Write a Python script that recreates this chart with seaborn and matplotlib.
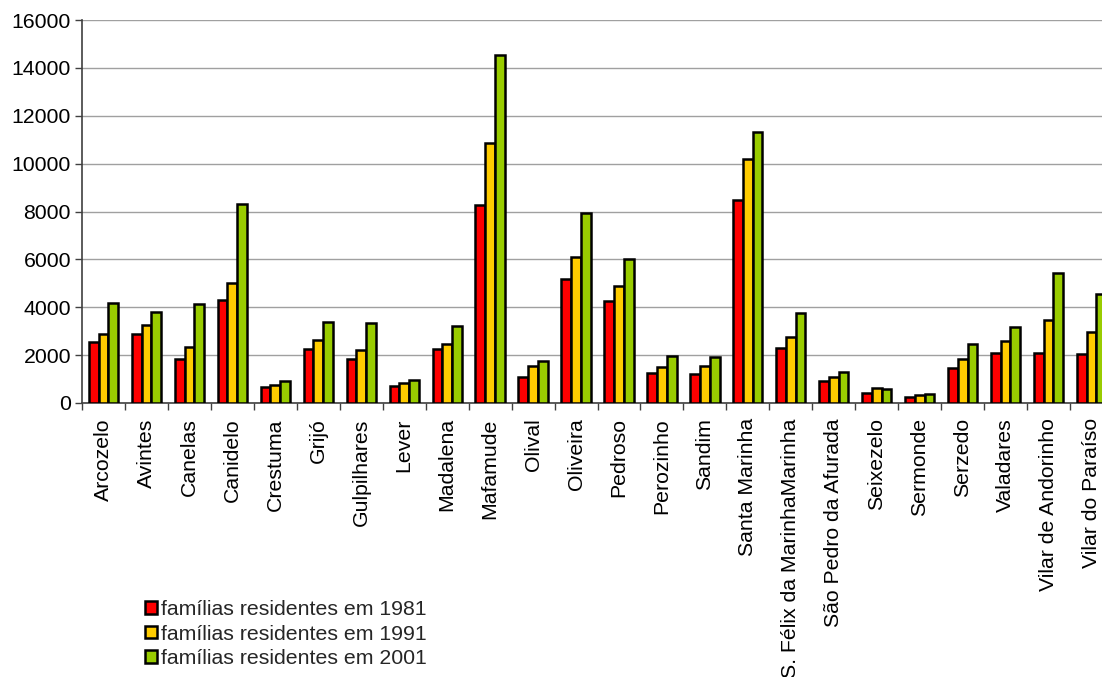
import matplotlib
matplotlib.use("Agg")
import matplotlib.pyplot as plt
from matplotlib.patches import Patch
from matplotlib.ticker import FixedLocator, MultipleLocator
import pandas as pd
import seaborn as sns

freguesias = [
    "Arcozelo", "Avintes", "Canelas", "Canidelo", "Crestuma", "Grijó",
    "Gulpilhares", "Lever", "Madalena", "Mafamude", "Olival", "Oliveira",
    "Pedroso", "Perozinho", "Sandim", "Santa Marinha",
    "S. Félix da MarinhaMarinha", "São Pedro da Afurada", "Seixezelo",
    "Sermonde", "Serzedo", "Valadares", "Vilar de Andorinho",
    "Vilar do Paraíso",
]
familias_1981 = [2535, 2895, 1825, 4300, 655, 2240, 1825, 725, 2255, 8270,
                 1085, 5165, 4260, 1255, 1210, 8465, 2310, 905, 405, 240,
                 1450, 2075, 2075, 2045]
familias_1991 = [2870, 3245, 2340, 5000, 740, 2645, 2215, 835, 2465, 10875,
                 1560, 6100, 4885, 1515, 1545, 10190, 2745, 1100, 640, 320,
                 1840, 2605, 3465, 2980]
familias_2001 = [4177, 3815, 4150, 8310, 905, 3385, 3340, 945, 3215, 14520,
                 1740, 7935, 6015, 1950, 1935, 11335, 3745, 1280, 570, 375,
                 2480, 3160, 5415, 4555]
series_labels = ["famílias residentes em 1981",
                 "famílias residentes em 1991",
                 "famílias residentes em 2001"]
cores = ["#FF0000", "#FFCC00", "#99CC00"]

rows = []
for lab, vals in zip(series_labels, [familias_1981, familias_1991, familias_2001]):
    for f, v in zip(freguesias, vals):
        rows.append({"freguesia": f, "serie": lab, "familias": v})
df = pd.DataFrame(rows)

sns.set_theme(style="white")
plt.rcParams["font.family"] = ["Liberation Sans", "DejaVu Sans"]

FS = 15.3

fig = plt.figure(figsize=(11.02, 6.77), dpi=100)
ax = fig.add_axes([82 / 1102, 1 - 403 / 677, 1031 / 1102, 383 / 677])

sns.barplot(data=df, x="freguesia", y="familias", hue="serie",
            order=freguesias, hue_order=series_labels, palette=cores,
            saturation=1, width=0.68, edgecolor="black", linewidth=1.8,
            errorbar=None, legend=False, ax=ax, zorder=3)

ax.set_ylim(0, 16000)
ax.set_xlim(-0.5, len(freguesias) - 0.5)
ax.yaxis.set_major_locator(MultipleLocator(2000))
ax.grid(axis="y", color="#A0A0A0", linewidth=1.0, zorder=0)
ax.set_axisbelow(True)
ax.set_xlabel("")
ax.set_ylabel("")

for side in ["top", "right"]:
    ax.spines[side].set_visible(False)
for side in ["left", "bottom"]:
    ax.spines[side].set_color("#404040")
    ax.spines[side].set_linewidth(1.2)

ax.tick_params(axis="y", which="major", left=True, length=5, width=1,
               color="#404040", labelsize=FS, labelcolor="black", pad=3)
ax.tick_params(axis="x", which="major", bottom=False, length=0,
               labelsize=FS, labelcolor="black", pad=11)
ax.xaxis.set_minor_locator(FixedLocator([i - 0.5 for i in range(len(freguesias) + 1)]))
ax.tick_params(axis="x", which="minor", bottom=True, length=5, width=1,
               color="#404040")
plt.setp(ax.get_xticklabels(), rotation=90, ha="center", va="top")

handles = [Patch(facecolor=c, edgecolor="black", linewidth=1.8) for c in cores]
fig.legend(handles, series_labels, loc="upper left",
           bbox_to_anchor=(145 / 1102, 1 - 600 / 677), frameon=False,
           fontsize=FS, handlelength=0.55, handleheight=0.55,
           handletextpad=0.2, labelspacing=0.26, borderaxespad=0,
           borderpad=0)

fig.savefig("out.png", dpi=100)
